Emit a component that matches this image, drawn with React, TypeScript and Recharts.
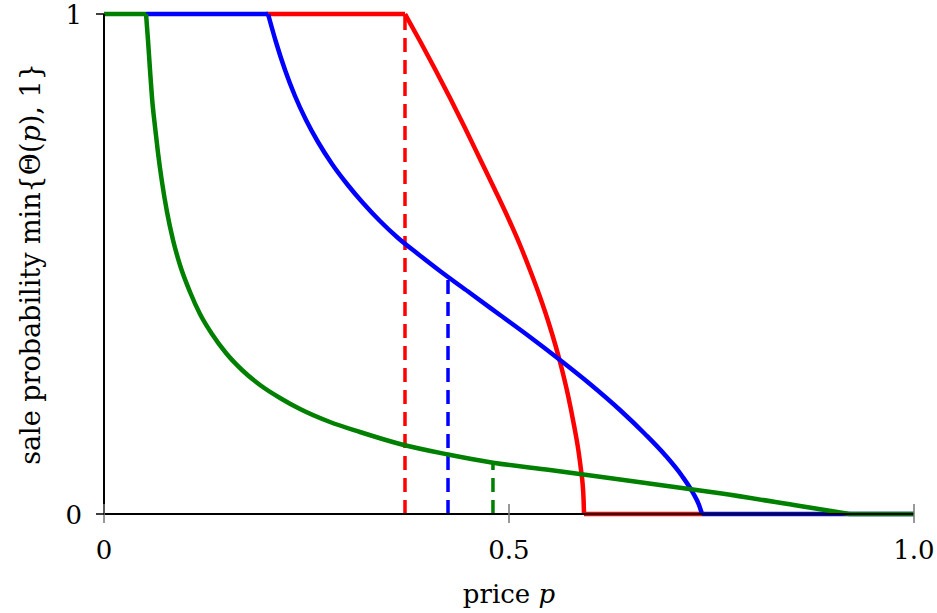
import { LineChart, Line, XAxis, YAxis } from 'recharts';

// prices and sale probabilities
const redFlatP = [0.2, 0.3716];
const redCurveP = [0.3716, 0.3901, 0.4086, 0.4272, 0.4457, 0.4642, 0.4827, 0.5012, 0.5136, 0.5259, 0.5383, 0.5506, 0.563, 0.5728, 0.5802, 0.5856, 0.5889, 0.591, 0.5921, 0.5926];
const redCurveV = [1, 0.946, 0.89, 0.832, 0.772, 0.71, 0.648, 0.584, 0.538, 0.488, 0.434, 0.374, 0.304, 0.238, 0.178, 0.128, 0.088, 0.058, 0.028, 0];
const redZeroP = [0.5926, 0.7383];

const blueFlatP = [0.0519, 0.2025];
const blueCurveP = [0.2025, 0.2123, 0.2235, 0.2358, 0.2494, 0.2642, 0.2815, 0.3, 0.3198, 0.3407, 0.363, 0.3877, 0.4148, 0.4247, 0.4519, 0.4889, 0.5259, 0.563, 0.6, 0.637, 0.6679, 0.6926, 0.7136, 0.7272, 0.7346, 0.7383];
const blueCurveV = [1, 0.944, 0.888, 0.836, 0.788, 0.744, 0.7, 0.66, 0.622, 0.586, 0.552, 0.52, 0.486, 0.474, 0.442, 0.398, 0.354, 0.308, 0.26, 0.208, 0.16, 0.118, 0.076, 0.042, 0.018, 0];
const blueZeroP = [0.7383, 1.0];

const greenFlatP = [0, 0.0519];
const greenCurveP = [0.0519, 0.0543, 0.0568, 0.0593, 0.063, 0.0667, 0.0716, 0.0778, 0.0852, 0.0938, 0.1062, 0.1185, 0.1333, 0.1506, 0.1704, 0.1926, 0.2173, 0.242, 0.279, 0.316, 0.3654, 0.4247, 0.4802, 0.5506, 0.6123, 0.6864, 0.7605, 0.8593, 0.921];
const greenCurveV = [1, 0.948, 0.888, 0.832, 0.774, 0.722, 0.664, 0.604, 0.548, 0.498, 0.444, 0.4, 0.36, 0.322, 0.288, 0.258, 0.232, 0.21, 0.184, 0.164, 0.14, 0.119, 0.1026, 0.088, 0.0746, 0.058, 0.0414, 0.016, 0];
const greenZeroP = [0.921, 1.0];

// optimal prices (dashed drops)
const redOptP = 0.3716;
const redOptV = 1;
const blueOptP = 0.4247;
const blueOptV = 0.474;
const greenOptP = 0.4802;
const greenOptV = 0.1026;

const xTicks = [0, 0.5, 1.0];
const xTickLabels = ['0', '0.5', '1.0'];
const yTicks = [0, 1];

// only DejaVu Serif resolves as a serif face here
const font = 'DejaVu Serif';

const zip = (ps: number[], vs: number[]) => ps.map((p, i) => ({ p, v: vs[i] }));
const flat = (ps: number[], v: number) => ps.map((p) => ({ p, v }));
const drop = (p: number, v: number) => [{ p, v: 0 }, { p, v }];

const XTick = (props: any) => {
  const { x, y, payload } = props;
  const i = xTicks.indexOf(payload.value);
  return (
    <g>
      <line x1={x} x2={x} y1={y - 10} y2={y + 9} stroke="#777" strokeWidth={1.5} />
      <text x={x} y={y + 45} textAnchor="middle" fontFamily={font} fontSize={26} fill="#000">
        {xTickLabels[i] ?? payload.value}
      </text>
    </g>
  );
};

const YTick = (props: any) => {
  const { x, y, payload } = props;
  return (
    <g>
      <line x1={x - 8} x2={x} y1={y} y2={y} stroke="#000" strokeWidth={1.5} />
      <text x={x - 22} y={y + 10} textAnchor="end" fontFamily={font} fontSize={26} fill="#000">
        {payload.value}
      </text>
    </g>
  );
};

const XLabel = (props: any) => {
  const vb = props.viewBox || { x: 104, y: 514, width: 810 };
  return (
    <text x={vb.x + vb.width / 2} y={vb.y + 89} textAnchor="middle" fontFamily={font} fontSize={26} fill="#000">
      price <tspan fontStyle="italic">p</tspan>
    </text>
  );
};

const YLabel = () => (
  <text x={40} y={264} transform="rotate(-90 40 264)" textAnchor="middle" fontFamily={font} fontSize={27} fill="#000">
    sale probability min{'{'}Θ(<tspan fontStyle="italic">p</tspan>), 1{'}'}
  </text>
);

const solid = { dot: false, isAnimationActive: false, strokeWidth: 4.5, dataKey: 'v', activeDot: false } as const;
const dashed = { dot: false, isAnimationActive: false, strokeWidth: 3.5, dataKey: 'v', strokeDasharray: '14 8', activeDot: false, type: 'linear' } as const;

export default function App() {
  return (
    <div style={{ position: 'absolute', left: 0, top: 0, background: '#fff' }}>
      <LineChart width={937} height={613} margin={{ top: 14, right: 23, bottom: 0, left: 0 }}>
        <XAxis
          dataKey="p"
          type="number"
          domain={[0, 1]}
          ticks={xTicks}
          tick={<XTick />}
          tickLine={false}
          tickSize={0}
          tickMargin={0}
          height={99}
          axisLine={{ stroke: '#000', strokeWidth: 2 }}
          allowDuplicatedCategory={false}
          label={<XLabel />}
        />
        <XAxis xAxisId="top" orientation="top" type="number" domain={[0, 1]} tick={false} tickLine={false} height={0} axisLine={{ stroke: '#000', strokeWidth: 1.5 }} />
        <YAxis
          type="number"
          domain={[0, 1]}
          ticks={yTicks}
          tick={<YTick />}
          tickLine={false}
          tickSize={0}
          tickMargin={0}
          width={104}
          axisLine={{ stroke: '#000', strokeWidth: 2 }}
          label={<YLabel />}
        />
        <YAxis yAxisId="right" orientation="right" type="number" domain={[0, 1]} tick={false} tickLine={false} width={0} axisLine={{ stroke: '#000', strokeWidth: 1.5 }} />

        <Line {...dashed} data={drop(redOptP, redOptV)} stroke="#ff0000" />
        <Line {...dashed} data={drop(blueOptP, blueOptV)} stroke="#0000ff" />
        <Line {...dashed} data={drop(greenOptP, greenOptV)} stroke="#008000" />

        <Line {...solid} type="linear" data={flat(redFlatP, 1)} stroke="#ff0000" />
        <Line {...solid} type="monotone" data={zip(redCurveP, redCurveV)} stroke="#ff0000" />
        <Line {...solid} type="linear" data={flat(redZeroP, 0)} stroke="#ff0000" />

        <Line {...solid} type="linear" data={flat(blueFlatP, 1)} stroke="#0000ff" />
        <Line {...solid} type="monotone" data={zip(blueCurveP, blueCurveV)} stroke="#0000ff" />
        <Line {...solid} type="linear" data={flat(blueZeroP, 0)} stroke="#0000ff" />

        <Line {...solid} type="linear" data={flat(greenFlatP, 1)} stroke="#008000" />
        <Line {...solid} type="monotone" data={zip(greenCurveP, greenCurveV)} stroke="#008000" />
        <Line {...solid} type="linear" data={flat(greenZeroP, 0)} stroke="#008000" />
      </LineChart>
    </div>
  );
}
